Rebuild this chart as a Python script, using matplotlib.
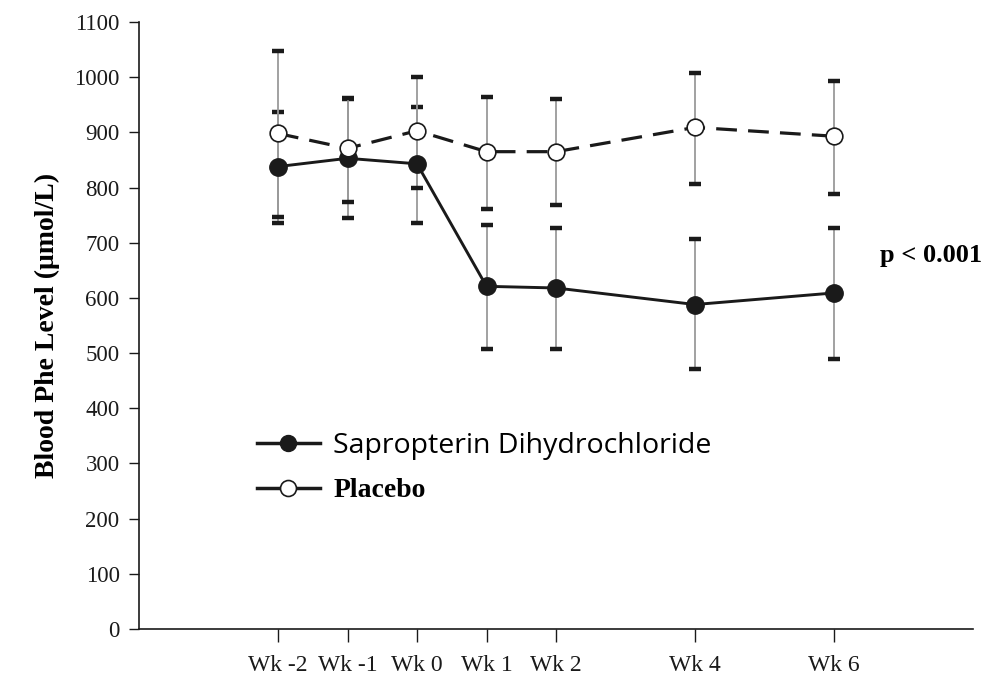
import matplotlib
matplotlib.use("Agg")
import matplotlib.pyplot as plt
from matplotlib.lines import Line2D
import numpy as np

weeks = [-2, -1, 0, 1, 2, 4, 6]
week_labels = ["Wk -2", "Wk -1", "Wk 0", "Wk 1", "Wk 2", "Wk 4", "Wk 6"]

sap_mean = [838, 853, 843, 621, 618, 588, 609]
sap_upper = [937, 960, 946, 732, 726, 706, 726]
sap_lower = [735, 745, 736, 507, 507, 471, 490]

pla_mean = [898, 871, 903, 865, 865, 909, 893]
pla_upper = [1047, 963, 1001, 964, 960, 1008, 993]
pla_lower = [747, 773, 800, 761, 769, 806, 788]

serif = "Liberation Serif"

fig = plt.figure(figsize=(10.06, 6.85), dpi=100)
ax = fig.add_axes([139 / 1006, 56 / 685, 834 / 1006, 607 / 685])


def draw_errs(mean, lo, hi):
    mean = np.array(mean)
    yerr = [mean - np.array(lo), np.array(hi) - mean]
    eb = ax.errorbar(weeks, mean, yerr=yerr, fmt="none", ecolor="#9a9a9a",
                     elinewidth=1.3, capsize=4.3, capthick=3.2, zorder=1)
    for cap in eb[1]:
        cap.set_color("#1a1a1a")
        cap.set_markeredgecolor("#1a1a1a")


draw_errs(sap_mean, sap_lower, sap_upper)
draw_errs(pla_mean, pla_lower, pla_upper)

ax.plot(weeks, sap_mean, color="#1a1a1a", lw=2.1, marker="o", ms=12.5,
        mfc="#1a1a1a", mec="#1a1a1a", zorder=3)
ax.plot(weeks, pla_mean, color="#1a1a1a", lw=2.3, dashes=(6.5, 3.5),
        marker="o", ms=12, mfc="white", mec="#1a1a1a", mew=1.2, zorder=4)

ax.set_xlim(-4, 8)
ax.set_ylim(0, 1100)
ax.set_xticks(weeks)
ax.set_xticklabels(week_labels, fontfamily=serif, fontsize=17)
ax.set_yticks(range(0, 1101, 100))
ax.set_yticklabels([str(v) for v in range(0, 1101, 100)], fontfamily=serif, fontsize=16.5)
ax.tick_params(axis="y", direction="out", length=7, width=1, pad=7, colors="#1a1a1a")
ax.tick_params(axis="x", direction="out", length=9, width=1, pad=10, colors="#1a1a1a")
for s in ["top", "right"]:
    ax.spines[s].set_visible(False)
for s in ["left", "bottom"]:
    ax.spines[s].set_linewidth(1.2)
    ax.spines[s].set_color("#1a1a1a")

ax.set_ylabel("Blood Phe Level (\u03bcmol/L)", fontfamily=serif, fontweight="bold",
              fontsize=20, labelpad=10)

ax.text(0.888, 0.616, "p < 0.001", transform=ax.transAxes, fontfamily=serif,
        fontweight="bold", fontsize=19, ha="left", va="center", clip_on=False)

handles = [
    Line2D([], [], color="#1a1a1a", lw=2.5, marker="o", ms=11.5, mfc="#1a1a1a"),
    Line2D([], [], color="#1a1a1a", lw=2.5, marker="o", ms=11.5, mfc="white", mew=1.2),
]
leg = ax.legend(handles, ["Sapropterin Dihydrochloride", "Placebo"],
                loc="upper left", bbox_to_anchor=(0.141, 0.325), frameon=False,
                borderpad=0, borderaxespad=0, handlelength=2.4,
                handletextpad=0.5, labelspacing=0.7, fontsize=19)
texts = leg.get_texts()
texts[0].set_fontfamily("Open Sans")
texts[0].set_fontsize(20.5)
texts[1].set_fontfamily(serif)
texts[1].set_fontweight("bold")
texts[1].set_fontsize(20)

fig.savefig("out.png", dpi=100)
